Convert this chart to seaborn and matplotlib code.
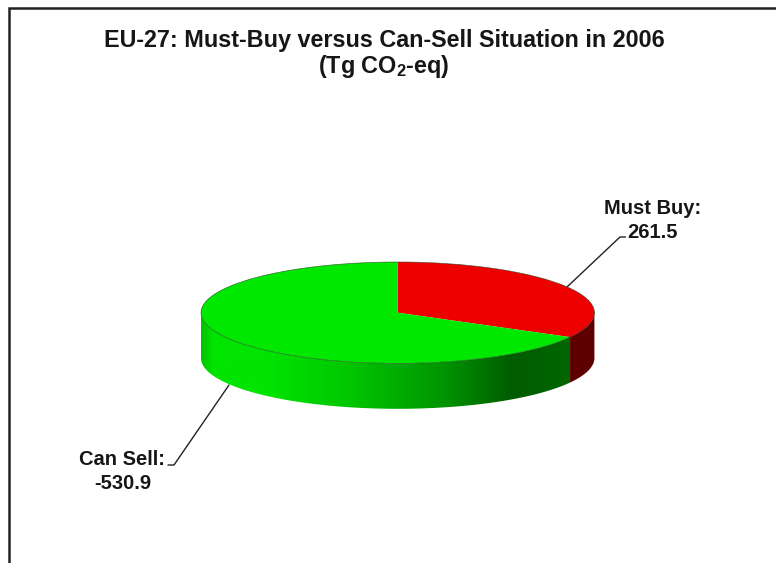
import numpy as np
import matplotlib
matplotlib.use("Agg")
import matplotlib.pyplot as plt
from matplotlib.colors import LinearSegmentedColormap
from matplotlib.patches import Polygon
import seaborn as sns

# values
labels = ["Must Buy:", "Can Sell:"]
values = [261.5, -530.9]
title_lines = ["EU-27: Must-Buy versus Can-Sell Situation in 2006", r"(Tg CO$_{\mathbf{2}}$-eq)"]

W, H = 776, 563
CX, CY, RX, RY, DEPTH = 397.7, 312.7, 196.7, 50.7, 45.4
top_colors = ["#EE0000", "#00E800"]

sns.set_theme(style="white")
plt.rcParams["font.family"] = ["Liberation Sans", "DejaVu Sans"]
plt.rcParams["mathtext.fontset"] = "custom"
plt.rcParams["mathtext.bf"] = "Liberation Sans:bold"

fig = plt.figure(figsize=(W / 100, H / 100), dpi=100, facecolor="white")

# pixel-space layer for frame, text and leader lines
base = fig.add_axes([0, 0, 1, 1])
base.set_xlim(0, W)
base.set_ylim(H, 0)
base.axis("off")
base.plot([8.7, 8.7, W], [H, 8, 8], color="#222222", lw=1.8, solid_joinstyle="miter")

text_color = "#161616"
base.text(384, 46.5, title_lines[0], ha="center", va="baseline", fontsize=16.8, fontweight="bold", color=text_color)
base.text(384, 73.5, title_lines[1], ha="center", va="baseline", fontsize=16.8, fontweight="bold", color=text_color)

base.plot([567, 620, 625.5], [287, 237, 237], color="#222222", lw=1)
base.plot([229, 174, 168], [385, 465, 465], color="#222222", lw=1)
base.text(653, 214.5, labels[0], ha="center", va="baseline", fontsize=14.5, fontweight="bold", color=text_color)
base.text(653, 238, f"{values[0]:.1f}", ha="center", va="baseline", fontsize=14.5, fontweight="bold", color=text_color)
base.text(122, 465, labels[1], ha="center", va="baseline", fontsize=14.5, fontweight="bold", color=text_color)
base.text(122.5, 489, f"{values[1]:.1f}", ha="center", va="baseline", fontsize=14.5, fontweight="bold", color=text_color)

# pie layer: unit pie squashed by the axis limits
ax = fig.add_axes([0, 0, 1, 1])
ax.patch.set_alpha(0)
wedges, _ = ax.pie(np.abs(values), colors=top_colors, startangle=90, counterclock=False,
                   wedgeprops={"linewidth": 0}, radius=1)
for w in wedges:
    w.set_zorder(5)
ax.set_aspect("auto")

depth = DEPTH / RY
split = 90 - 360 * abs(values[0]) / np.abs(values).sum()


def wall(t0, t1):
    t = np.radians(np.linspace(t0, t1, 200))
    x, y = np.cos(t), np.sin(t)
    return np.column_stack([np.r_[x, x[::-1]], np.r_[y, y[::-1] - depth]])


green_wall = LinearSegmentedColormap.from_list("green_wall", [
    (0, "#00C400"), (0.03, "#00E400"), (0.17, "#00E400"), (0.385, "#00C400"),
    (0.62, "#009400"), (0.79, "#005C00"), (1, "#006C00")])
img = ax.imshow(np.linspace(0, 1, 512).reshape(1, -1), cmap=green_wall, aspect="auto",
                extent=(-1, 1, -1 - depth, 0), zorder=2)
clip = Polygon(wall(180, 360 + split), transform=ax.transData, fc="none", ec="none")
ax.add_patch(clip)
img.set_clip_path(clip)
ax.add_patch(Polygon(wall(360 + split, 360), fc="#5E0000", ec="none", zorder=2))

# rim line between top face and wall
t = np.radians(np.linspace(0, 360, 400))
ax.plot(np.cos(t), np.sin(t), color="#1c3a1c", lw=0.5, alpha=0.7, zorder=6)

ax.set_xlim(-CX / RX, (W - CX) / RX)
ax.set_ylim(-(H - CY) / RY, CY / RY)
ax.axis("off")

fig.savefig("out.png", dpi=100)
